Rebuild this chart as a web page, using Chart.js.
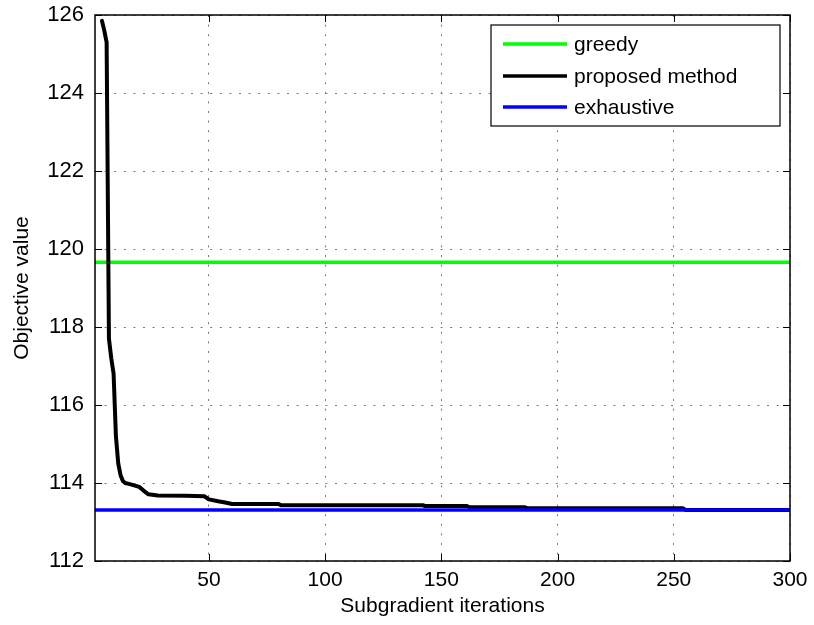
<!DOCTYPE html>
<html>
<head>
<meta charset="utf-8">
<script src="https://cdn.jsdelivr.net/npm/chart.js@4/dist/chart.umd.min.js"></script>
<style>
  body { margin: 0; background: #fff; }
  #wrap { width: 814px; height: 625px; }
</style>
</head>
<body>
<div id="wrap"><canvas id="objChart" width="814" height="625"></canvas></div>
<script>
// data
const iterations = [4, 5, 6, 7, 8, 9, 10, 11, 12, 13, 14, 16, 20, 22, 24, 28, 40, 48, 50, 54, 57, 60, 80, 81, 142, 143, 161, 162, 186, 187, 254, 255, 300];
const proposed = [125.85, 125.6, 125.3, 117.7, 117.2, 116.8, 115.2, 114.5, 114.2, 114.05, 114.0, 113.97, 113.9, 113.8, 113.71, 113.68, 113.67, 113.66, 113.58, 113.53, 113.5, 113.46, 113.46, 113.43, 113.43, 113.41, 113.41, 113.38, 113.38, 113.35, 113.35, 113.31, 113.31];
const lineSpan = [1, 300];
const greedyValue = 119.66;
const exhaustiveValue = 113.31;
const xTicks = [50, 100, 150, 200, 250, 300];
const yTicks = [112, 114, 116, 118, 120, 122, 124, 126];

const FONT = "'Liberation Sans', Arial, Helvetica, sans-serif";

function pts(xs, ys) {
    return xs.map((x, i) => ({ x: x, y: ys[i] }));
}

// frame, inward ticks and legend box like matlab
const matlabFrame = {
    id: 'matlabFrame',
    afterDatasetsDraw(chart) {
        const ctx = chart.ctx;
        const a = chart.chartArea;
        const sx = chart.scales.x;
        const sy = chart.scales.y;
        ctx.save();
        ctx.strokeStyle = '#000';
        ctx.lineWidth = 1;
        ctx.beginPath();
        xTicks.forEach(v => {
            const px = Math.round(sx.getPixelForValue(v)) + 0.5;
            ctx.moveTo(px, a.bottom); ctx.lineTo(px, a.bottom - 7);
            ctx.moveTo(px, a.top); ctx.lineTo(px, a.top + 7);
        });
        yTicks.forEach(v => {
            const py = Math.round(sy.getPixelForValue(v)) + 0.5;
            ctx.moveTo(a.left, py); ctx.lineTo(a.left + 7, py);
            ctx.moveTo(a.right, py); ctx.lineTo(a.right - 7, py);
        });
        ctx.stroke();
        ctx.lineWidth = 1.5;
        ctx.strokeRect(a.left, a.top, a.right - a.left, a.bottom - a.top);

        // legend
        const bx = 491, by = 25, bw = 289, bh = 101;
        ctx.fillStyle = '#fff';
        ctx.fillRect(bx, by, bw, bh);
        ctx.lineWidth = 1.2;
        ctx.strokeRect(bx, by, bw, bh);
        const rows = [44, 76, 107];
        ctx.font = '21px ' + FONT;
        ctx.textBaseline = 'middle';
        chart.data.datasets.forEach((ds, i) => {
            ctx.strokeStyle = ds.borderColor;
            ctx.lineWidth = 3.5;
            ctx.beginPath();
            ctx.moveTo(503, rows[i]);
            ctx.lineTo(567, rows[i]);
            ctx.stroke();
            ctx.fillStyle = '#000';
            ctx.fillText(ds.label, 574, rows[i] + 1);
        });
        ctx.restore();
    }
};

const ctx = document.getElementById('objChart');

new Chart(ctx, {
    type: 'scatter',
    data: {
        datasets: [
            {
                label: 'greedy',
                data: pts(lineSpan, [greedyValue, greedyValue]),
                borderColor: '#00ff00',
                borderWidth: 3.5,
                showLine: true,
                pointRadius: 0,
                order: 3
            },
            {
                label: 'proposed method',
                data: pts(iterations, proposed),
                borderColor: '#000000',
                borderWidth: 4,
                borderCapStyle: 'round',
                borderJoinStyle: 'round',
                showLine: true,
                pointRadius: 0,
                tension: 0,
                order: 2
            },
            {
                label: 'exhaustive',
                data: pts(lineSpan, [exhaustiveValue, exhaustiveValue]),
                borderColor: '#0000ff',
                borderWidth: 3.5,
                showLine: true,
                pointRadius: 0,
                order: 1
            }
        ]
    },
    options: {
        responsive: false,
        animation: false,
        layout: { padding: { top: 15, right: 24, left: 0, bottom: 0 } },
        plugins: {
            legend: { display: false },
            tooltip: { enabled: false }
        },
        scales: {
            x: {
                type: 'linear',
                min: 1,
                max: 300,
                afterBuildTicks(scale) {
                    scale.ticks = xTicks.map(v => ({ value: v }));
                },
                afterFit(scale) {
                    scale.height = 64;
                    scale.paddingLeft = 0;
                    scale.paddingRight = 0;
                },
                ticks: {
                    color: '#000',
                    padding: 7,
                    font: { family: FONT, size: 21 }
                },
                grid: {
                    color: '#777',
                    lineWidth: 1,
                    drawTicks: false
                },
                border: { display: false, dash: [2, 7.6] },
                title: {
                    display: true,
                    text: 'Subgradient iterations',
                    color: '#000',
                    padding: { top: 0, bottom: 6 },
                    font: { family: FONT, size: 21 }
                }
            },
            y: {
                min: 112,
                max: 126,
                afterBuildTicks(scale) {
                    scale.ticks = yTicks.map(v => ({ value: v }));
                },
                afterFit(scale) {
                    scale.width = 95;
                    scale.paddingTop = 0;
                    scale.paddingBottom = 0;
                },
                ticks: {
                    color: '#000',
                    padding: 11,
                    font: { family: FONT, size: 22 }
                },
                grid: {
                    color: '#777',
                    lineWidth: 1,
                    drawTicks: false
                },
                border: { display: false, dash: [2, 7.6] },
                title: {
                    display: true,
                    text: 'Objective value',
                    color: '#000',
                    padding: { top: 10, bottom: 0 },
                    font: { family: FONT, size: 21 }
                }
            }
        }
    },
    plugins: [matlabFrame]
});
</script>
</body>
</html>
